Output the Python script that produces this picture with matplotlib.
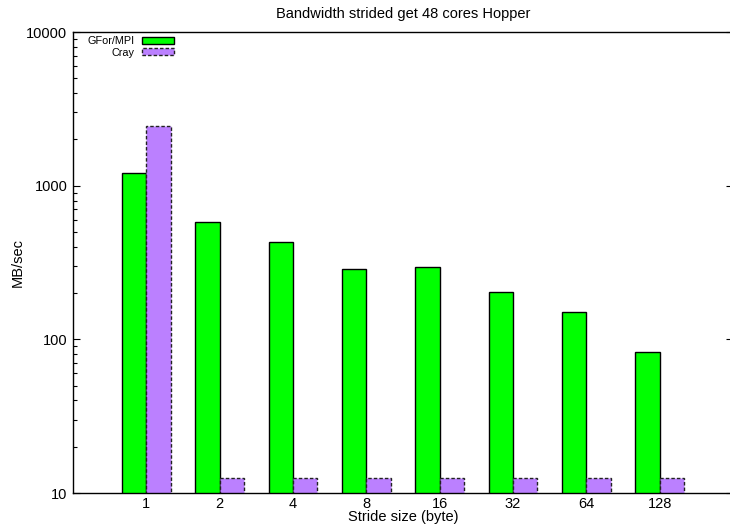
import matplotlib
matplotlib.use("Agg")
import matplotlib.pyplot as plt
import numpy as np

plt.rcParams["font.family"] = ["Liberation Sans", "DejaVu Sans"]

# Data
strides = ["1", "2", "4", "8", "16", "32", "64", "128"]
gfor_mpi = [1211, 581, 428, 287, 294, 202, 150, 83]
cray = [2456, 12.6, 12.6, 12.5, 12.5, 12.5, 12.5, 12.5]

fig = plt.figure(figsize=(7.3, 5.3), dpi=100)
ax = fig.add_axes([0.1, 0.0698, 0.9041, 0.8698])

x = np.arange(len(strides))
w = 0.334
ax.bar(x - w / 2, gfor_mpi, w, bottom=0, color="#00ff00", edgecolor="black",
       linewidth=1.0, label="GFor/MPI", zorder=2)
ax.bar(x + w / 2, cray, w, bottom=0, color="#bb80ff", edgecolor="#222222",
       linewidth=1.0, linestyle=(0, (2.5, 1.5)), label="Cray", zorder=2)

ax.set_yscale("log")
ax.set_ylim(10, 10000)
ax.set_xlim(-1, 8)
ax.set_xticks(x)
ax.set_xticklabels(strides)
ax.set_yticks([10, 100, 1000, 10000])
ax.set_yticklabels(["10", "100", "1000", "10000"])

ax.tick_params(axis="x", length=0, pad=3, labelsize=10.5)
ax.tick_params(axis="y", which="major", direction="in", length=5, width=0.8,
               labelsize=10.5, pad=4, right=True)
ax.tick_params(axis="y", which="minor", direction="in", length=3, width=0.8,
               right=False)
for s in ["left", "bottom", "top"]:
    ax.spines[s].set_linewidth(1.0)
ax.spines["right"].set_visible(False)

ax.set_title("Bandwidth strided get 48 cores Hopper", fontsize=10.5, pad=10)
ax.set_xlabel("Stride size (byte)", fontsize=10.5, labelpad=-1)
ax.set_ylabel("MB/sec", fontsize=10.5, labelpad=1)

ax.legend(loc="upper left", bbox_to_anchor=(0.018, 0.995), frameon=False,
          markerfirst=False, fontsize=7.8, handlelength=3.0, handleheight=0.55,
          handletextpad=0.7, labelspacing=0.1, borderaxespad=0, borderpad=0.2)

fig.savefig("out.png", dpi=100)
